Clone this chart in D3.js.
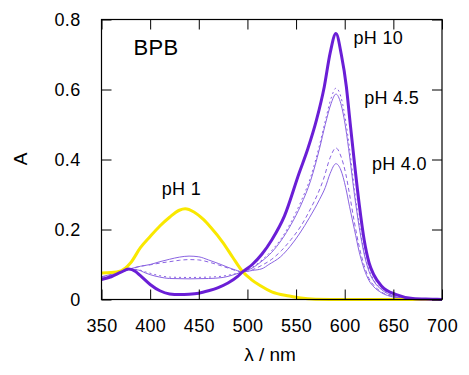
<!DOCTYPE html>
<html>
<head>
<meta charset="utf-8">
<script src="https://cdn.jsdelivr.net/npm/d3@7"></script>
<style>
  body { margin: 0; background: #fff; }
  text { font-family: Arial, "Liberation Sans", sans-serif; }
</style>
</head>
<body>
<svg id="chart" width="469" height="375"></svg>
<script>
// spectra, [wavelength nm, absorbance]
const ph1 = [[350,0.076],[360,0.077],[370,0.082],[380,0.105],[390,0.148],[400,0.18],[410,0.21],[420,0.235],[430,0.255],[436,0.259],[445,0.25],[455,0.228],[462,0.207],[475,0.162],[485,0.12],[495,0.08],[504,0.057],[513,0.04],[525,0.022],[543,0.01],[555,0.004],[570,0.001],[600,0],[700,0]];

const ph10 = [[350,0.057],[360,0.065],[370,0.078],[378,0.087],[385,0.08],[390,0.068],[400,0.043],[410,0.025],[420,0.016],[430,0.014],[440,0.015],[450,0.018],[460,0.025],[470,0.034],[480,0.047],[490,0.066],[495,0.079],[505,0.1],[515,0.13],[525,0.17],[538,0.238],[553,0.36],[562,0.43],[571,0.513],[579,0.608],[585,0.704],[591,0.76],[596.5,0.7],[601.7,0.608],[605,0.52],[610,0.39],[615,0.27],[620,0.17],[625,0.105],[630,0.07],[638,0.038],[653,0.014],[670,0.003],[690,0.001],[700,0]];

// pH 4.0 (solid)
const phA = [[350,0.065],[360,0.072],[370,0.08],[380,0.088],[390,0.095],[400,0.1],[410,0.108],[420,0.115],[430,0.121],[440,0.124],[450,0.122],[460,0.113],[470,0.103],[480,0.092],[488,0.084],[495,0.079],[505,0.083],[515,0.088],[522,0.1],[534,0.122],[544,0.152],[554,0.19],[564,0.235],[574,0.285],[580,0.32],[585,0.36],[591,0.388],[596,0.37],[601,0.32],[605,0.265],[610,0.2],[615,0.135],[620,0.087],[625,0.054],[630,0.036],[638,0.019],[650,0.007],[665,0.002],[690,0.001],[700,0]];

// dashed
const phB = [[350,0.063],[360,0.07],[370,0.079],[380,0.088],[390,0.095],[400,0.099],[410,0.104],[420,0.108],[430,0.112],[440,0.114],[450,0.113],[460,0.107],[470,0.099],[480,0.09],[495,0.079],[505,0.085],[515,0.098],[525,0.115],[535,0.14],[545,0.172],[555,0.21],[565,0.26],[572,0.3],[578,0.342],[585,0.405],[591,0.433],[596,0.41],[601,0.36],[605,0.3],[610,0.22],[615,0.15],[620,0.097],[625,0.06],[630,0.04],[638,0.021],[650,0.008],[665,0.002],[690,0.001],[700,0]];

// pH 4.5 (solid)
const phC = [[350,0.058],[360,0.066],[370,0.077],[380,0.086],[388,0.084],[395,0.076],[400,0.071],[410,0.064],[420,0.06],[440,0.059],[460,0.06],[475,0.063],[485,0.07],[495,0.079],[505,0.09],[515,0.11],[525,0.135],[535,0.17],[545,0.215],[555,0.27],[565,0.34],[574,0.43],[580,0.5],[586,0.56],[591,0.587],[596,0.56],[601,0.49],[605,0.41],[610,0.3],[615,0.205],[620,0.13],[625,0.08],[630,0.052],[638,0.028],[650,0.01],[665,0.003],[690,0.001],[700,0]];

// dashed
const phD = [[350,0.06],[360,0.068],[370,0.078],[380,0.087],[388,0.085],[395,0.079],[400,0.075],[410,0.068],[420,0.064],[440,0.063],[460,0.064],[475,0.067],[485,0.072],[495,0.079],[505,0.092],[515,0.113],[525,0.14],[535,0.175],[545,0.222],[555,0.28],[565,0.35],[574,0.44],[580,0.51],[586,0.575],[591,0.604],[596,0.58],[601,0.51],[605,0.43],[610,0.315],[615,0.215],[620,0.135],[625,0.085],[630,0.055],[638,0.03],[650,0.011],[665,0.003],[690,0.001],[700,0]];

const xTicks = [350, 400, 450, 500, 550, 600, 650, 700];
const yTicks = [0, 0.2, 0.4, 0.6, 0.8];

const labels = [
  {text: "BPB", nm: 383, a: 0.7, size: 22},
  {text: "pH 10", nm: 609, a: 0.729, size: 18},
  {text: "pH 4.5", nm: 620, a: 0.558, size: 18},
  {text: "pH 4.0", nm: 628, a: 0.369, size: 18},
  {text: "pH 1", nm: 412, a: 0.3, size: 18}
];

const svg = d3.select("#chart");
const x = d3.scaleLinear().domain([350, 700]).range([101.5, 442]);
const y = d3.scaleLinear().domain([0, 0.8]).range([299.5, 19.5]);

const line = d3.line()
  .x(d => x(d[0]))
  .y(d => y(d[1]))
  .curve(d3.curveMonotoneX);

const plot = svg.append("g");

function drawCurve(data, color, width, dash) {
  plot.append("path")
    .datum(data)
    .attr("d", line)
    .attr("fill", "none")
    .attr("stroke", color)
    .attr("stroke-width", width)
    .attr("stroke-dasharray", dash || null)
    .attr("stroke-linejoin", "round");
}

const thin = "#8a63e2";
drawCurve(phA, thin, 1);
drawCurve(phB, thin, 1, "4,3");
drawCurve(phC, thin, 1);
drawCurve(phD, thin, 1, "2,3");
drawCurve(ph1, "#f9e800", 3);
drawCurve(ph10, "#6a1ed6", 3);

// axes, ticks pointing inward on all four sides
function styleAxis(g) {
  g.select(".domain").remove();
  g.selectAll(".tick line").attr("stroke", "#000").attr("stroke-width", 1);
  g.selectAll(".tick text")
    .attr("fill", "#000")
    .style("font-size", "18px")
    .style("letter-spacing", "0.3px");
}

svg.append("g")
  .attr("transform", `translate(0,${y(0)})`)
  .call(d3.axisBottom(x).tickValues(xTicks).tickSize(-10).tickPadding(20).tickFormat(d3.format("d")))
  .call(styleAxis);

svg.append("g")
  .attr("transform", `translate(0,${y(0.8)})`)
  .call(d3.axisTop(x).tickValues(xTicks).tickSize(-10).tickFormat(""))
  .call(styleAxis);

svg.append("g")
  .attr("transform", `translate(${x(350)},0)`)
  .call(d3.axisLeft(y).tickValues(yTicks).tickSize(-10).tickPadding(21)
    .tickFormat(d => d === 0 ? "0" : d3.format(".1f")(d)))
  .call(styleAxis);

svg.append("g")
  .attr("transform", `translate(${x(700)},0)`)
  .call(d3.axisRight(y).tickValues(yTicks).tickSize(-10).tickFormat(""))
  .call(styleAxis);

svg.append("rect")
  .attr("x", x(350)).attr("y", y(0.8))
  .attr("width", x(700) - x(350)).attr("height", y(0) - y(0.8))
  .attr("fill", "none").attr("stroke", "#000").attr("stroke-width", 1.2);

// axis titles
svg.append("text")
  .attr("x", 270).attr("y", 361)
  .attr("text-anchor", "middle")
  .style("font-size", "19px")
  .text("λ / nm");

svg.append("text")
  .attr("transform", "translate(27,159) rotate(-90)")
  .attr("text-anchor", "middle")
  .style("font-size", "19px")
  .text("A");

// annotations
svg.selectAll(".lab")
  .data(labels)
  .join("text")
  .attr("class", "lab")
  .attr("x", d => x(d.nm))
  .attr("y", d => y(d.a))
  .style("font-size", d => d.size + "px")
  .style("letter-spacing", "0.3px")
  .text(d => d.text);
</script>
</body>
</html>
